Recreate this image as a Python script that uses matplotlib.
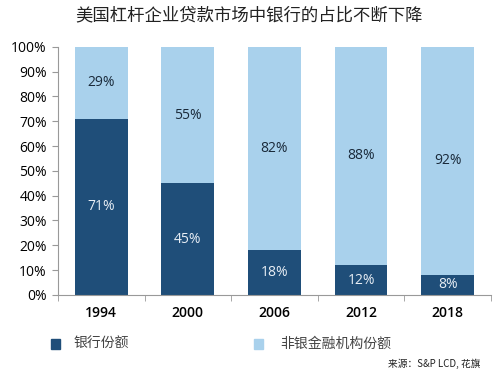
import numpy as np
import matplotlib.pyplot as plt
from matplotlib.patches import Rectangle

plt.rcParams['font.family'] = ['Noto Sans CJK SC', 'DejaVu Sans']

years = ['1994', '2000', '2006', '2012', '2018']
bank_share = [71, 45, 18, 12, 8]
nonbank_share = [29, 55, 82, 88, 92]

dark = '#1f4e79'
light = '#a9d1ec'

fig = plt.figure(figsize=(4.99, 3.81), dpi=100)
ax = fig.add_axes([0.116, 0.226, 0.868, 0.651])

x = np.arange(len(years))
ax.bar(x, bank_share, width=0.61, color=dark)
ax.bar(x, nonbank_share, width=0.61, bottom=bank_share, color=light)

for i in range(len(years)):
    ax.text(x[i], bank_share[i] / 2, f'{bank_share[i]}%', ha='center', va='center',
            color='#e8eef5', fontsize=10, family='Open Sans')
    ax.text(x[i], bank_share[i] + nonbank_share[i] / 2, f'{nonbank_share[i]}%',
            ha='center', va='center', color='#1a2a3a', fontsize=10, family='Open Sans')

ax.set_xlim(-0.5, len(years) - 0.5)
ax.set_ylim(0, 100)
ax.set_yticks(range(0, 101, 10))
ax.set_yticklabels([f'{v}%' for v in range(0, 101, 10)], family='Open Sans', fontsize=10)
ax.set_xticks(x)
ax.set_xticklabels(years, family='Open Sans', fontsize=10, fontweight='semibold')
ax.set_xticks(np.arange(len(years) + 1) - 0.5, minor=True)
ax.tick_params(axis='x', which='major', length=0, pad=8)
ax.tick_params(axis='x', which='minor', length=4, color='#999999')
ax.tick_params(axis='y', length=4, color='#999999', pad=4)
for s in ['top', 'right']:
    ax.spines[s].set_visible(False)
ax.spines['left'].set_color('#999999')
ax.spines['bottom'].set_color('#999999')

fig.text(0.5, 0.96, '美国杠杆企业贷款市场中银行的占比不断下降', ha='center', va='center',
         fontsize=12.5, color='#222222')

# legend
fig.patches.append(Rectangle((51 / 499, 1 - 349 / 381), 9 / 499, 10 / 381,
                             transform=fig.transFigure, color=dark))
fig.text(74 / 499, 1 - 344 / 381, '银行份额', va='center', fontsize=10, color='#444444')
fig.patches.append(Rectangle((254 / 499, 1 - 349 / 381), 9 / 499, 10 / 381,
                             transform=fig.transFigure, color=light))
fig.text(280 / 499, 1 - 344 / 381, '非银金融机构份额', va='center', fontsize=10, color='#444444')

fig.text(480 / 499, 1 - 364 / 381, '来源：S&P LCD, 花旗', ha='right', va='center',
         fontsize=7, color='#222222')

fig.savefig('out.png', dpi=100)
